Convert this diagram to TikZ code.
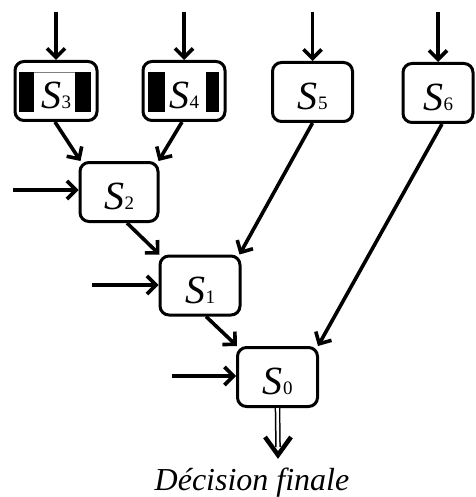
\documentclass[tikz,border=0pt]{standalone}
\usepackage{fontspec}
\setmainfont{Liberation Serif}
\usetikzlibrary{arrows.meta,calc}
\newcommand\stagelabel[1]{{\fontsize{40}{40}\selectfont\itshape S}\kern0.5pt{\fontsize{19}{19}\selectfont #1}}
\begin{document}
\begin{tikzpicture}[x=1pt,y=-1pt,
  box/.style={draw,line width=3pt,rounded corners=9pt,minimum width=80pt,
    minimum height=59pt,inner sep=0pt,text height=35pt,text depth=0pt},
  flow/.style={line width=3.6pt,-{Straight Barb[length=9pt,width=18pt]}},
  bar/.style={fill=black}]
\useasboundingbox (0,0) rectangle (475,497);

% stage boxes
\node[box,minimum width=82pt] (S3) at (56,91)  {\stagelabel{3}};
\node[box,minimum width=82pt] (S4) at (184,91) {\stagelabel{4}};
\node[box] (S5) at (312.5,92) {\stagelabel{5}};
\node[box,minimum width=70pt] (S6) at (438,93) {\stagelabel{6}};
\node[box,minimum width=78pt] (S2) at (119,192) {\stagelabel{2}};
\node[box] (S1) at (200,285.5) {\stagelabel{1}};
\node[box] (S0) at (277.5,377) {\stagelabel{0}};

% masking bars in S3 and S4
\fill[bar] ($(S3.center)+(-37,-19)$) rectangle ++(15,40);
\fill[bar] ($(S3.center)+(19,-19)$) rectangle ++(16,40);
\draw[gray,line width=0.7pt] ($(S3.center)+(-22,-18.7)$) -- ++(41,0);
\fill[bar] ($(S4.center)+(-36,-19)$) rectangle ++(17,40);
\fill[bar] ($(S4.center)+(22,-19)$) rectangle ++(13,40);

% external inputs
\coordinate (in3) at (56,12);
\coordinate (in4) at (184,12);
\coordinate (in5) at (312.5,12);
\coordinate (in6) at (438,12);
\coordinate (in2) at (13,190);
\coordinate (in1) at (92,285);
\coordinate (in0) at (172,376);
\draw[flow] (in3) -- (in3 |- S3.north);
\draw[flow] (in4) -- (in4 |- S4.north);
\draw[flow] (in5) -- (in5 |- S5.north);
\draw[flow] (in6) -- (in6 |- S6.north);
\draw[flow] (in2) -- (in2 -| S2.west);
\draw[flow] (in1) -- (in1 -| S1.west);
\draw[flow] (in0) -- (in0 -| S0.west);

% stage-to-stage links
\draw[flow] ($(S3.south)+(-1,0)$) -- ($(S2.north west)+(2,0)$);
\draw[flow] ($(S4.south)+(-2,0)$) -- ($(S2.north east)+(-1,0)$);
\draw[flow] ($(S2.south)+(8,0)$) -- ($(S1.north west)+(1,0)$);
\draw[flow] (S5.south) -- ($(S1.north east)+(-2,0)$);
\draw[flow] ($(S1.south)+(6,0)$) -- ($(S0.north west)+(1,0)$);
\draw[flow] ($(S6.south)+(4,0)$) -- ($(S0.north east)+(-1,0)$);

% final output
\coordinate (out) at (278,455);
\draw[double,double distance=2.6pt,line width=1.5pt] (S0.south) -- ($(out)+(0,-8)$);
\draw[line width=4.5pt] ($(out)+(-13,-18)$) -- (out) -- ($(out)+(13,-18)$);
\node[font=\fontsize{32}{32}\selectfont\itshape,anchor=base] (dec) at (252,490) {Décision finale};
\end{tikzpicture}
\end{document}
